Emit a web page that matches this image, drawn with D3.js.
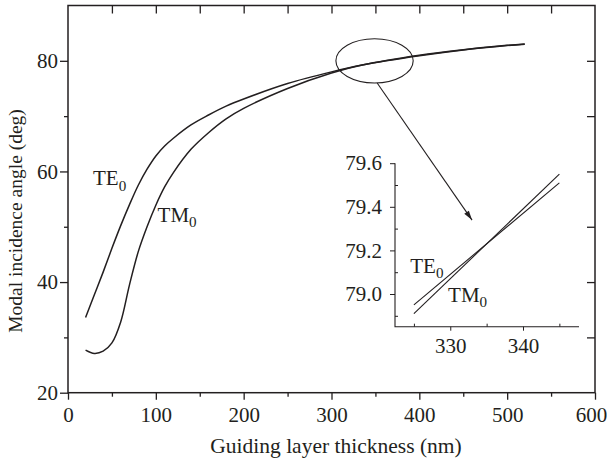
<!DOCTYPE html>
<html>
<head>
<meta charset="utf-8">
<script src="https://cdn.jsdelivr.net/npm/d3@7/dist/d3.min.js"></script>
<style>
body { margin: 0; background: #fff; }
svg text { font-family: "Liberation Serif", "Times New Roman", serif; fill: #231f20; }
.axis path, .axis line { stroke: #231f20; }
</style>
</head>
<body>
<svg id="chart"></svg>
<script>
// guiding layer thickness (nm) and modal angles (deg)
const thickness = [20, 30, 40, 50, 60, 70, 80, 90, 100, 110, 120, 140, 160, 180, 200, 250, 300, 335, 400, 450, 500, 520];
const angleTE = [33.6, 37.7, 41.8, 46.1, 50.2, 54.0, 57.5, 60.4, 62.8, 64.6, 66.0, 68.4, 70.2, 71.8, 73.1, 75.9, 78.0, 79.23, 80.9, 81.95, 82.75, 83.0];
const angleTM = [27.7, 27.1, 27.5, 29.0, 32.8, 39.5, 45.5, 50.0, 53.9, 57.2, 59.8, 64.0, 67.0, 69.5, 71.4, 75.0, 77.8, 79.23, 81.0, 82.0, 82.8, 83.05];

// zoomed inset
const insetThickness = [325, 345];
const insetTE = [78.95, 79.51];
const insetTM = [78.91, 79.55];

const xTicks = [0, 100, 200, 300, 400, 500, 600];
const yTicks = [20, 40, 60, 80];
const insetXTicks = [330, 340];
const insetYTicks = [79.0, 79.2, 79.4, 79.6];

const W = 607, H = 458;
const margins = {"left": 68, "right": 12, "top": 5.5, "bottom": 65.3};
const ink = "#231f20";
const serif = "'Liberation Serif', 'Times New Roman', serif";

var svg = d3.select("#chart").attr("width", W).attr("height", H);

const x = d3.scaleLinear().domain([0, 600]).range([margins.left, W - margins.right]);
const y = d3.scaleLinear().domain([20, 90]).range([H - margins.bottom, margins.top]);

function series(xs, ys) { return xs.map((d, i) => [d, ys[i]]); }

// frame
svg.append("rect")
   .attr("x", x(0)).attr("y", y(90))
   .attr("width", x(600) - x(0)).attr("height", y(20) - y(90))
   .attr("fill", "none").attr("stroke", ink).attr("stroke-width", 1.5);

function addAxis(axis, tx, ty) {
  var g = svg.append("g").attr("class", "axis")
             .attr("transform", "translate(" + tx + "," + ty + ")")
             .call(axis);
  g.select(".domain").remove();
  g.selectAll("line").attr("stroke-width", 1.3);
  g.selectAll("text").attr("font-size", 21).attr("fill", ink).style("font-family", serif);
  return g;
}

// bottom / left with labels
var xg = addAxis(d3.axisBottom(x).tickValues(xTicks).tickSize(7).tickPadding(7).tickFormat(d3.format("d")), 0, y(20));
xg.selectAll("text").filter(d => d === 600).attr("dx", -4);
addAxis(d3.axisBottom(x).tickValues(d3.range(50, 600, 100)).tickSize(4).tickFormat(""), 0, y(20));
addAxis(d3.axisLeft(y).tickValues(yTicks).tickSize(8).tickPadding(2).tickFormat(d3.format("d")), x(0), 0);
addAxis(d3.axisLeft(y).tickValues([30, 50, 70]).tickSize(4).tickFormat(""), x(0), 0);
// mirrored ticks on top / right, pointing inward
addAxis(d3.axisTop(x).tickValues(d3.range(50, 600, 50)).tickSize(-8).tickFormat(""), 0, y(90));
addAxis(d3.axisRight(y).tickValues(d3.range(30, 90, 10)).tickSize(-8).tickFormat(""), x(600), 0);

var line = d3.line().x(d => x(d[0])).y(d => y(d[1])).curve(d3.curveCatmullRom.alpha(0.5));

svg.append("path").datum(series(thickness, angleTE))
   .attr("d", line).attr("fill", "none").attr("stroke", ink).attr("stroke-width", 1.5);
svg.append("path").datum(series(thickness, angleTM))
   .attr("d", line).attr("fill", "none").attr("stroke", ink).attr("stroke-width", 1.5);

function modeLabel(parent, px, py, name, size) {
  var t = parent.append("text").attr("x", px).attr("y", py).attr("font-size", size);
  t.append("tspan").text(name);
  t.append("tspan").text("0").attr("font-size", size * 0.72).attr("dy", size * 0.25);
}
modeLabel(svg, x(28.5), y(57.5), "TE", 21);
modeLabel(svg, x(102), y(50.9), "TM", 21);

// highlight ellipse and arrow
svg.append("ellipse")
   .attr("cx", x(349)).attr("cy", y(80))
   .attr("rx", x(349 + 44) - x(349)).attr("ry", y(80 - 4) - y(80))
   .attr("fill", "none").attr("stroke", ink).attr("stroke-width", 1.1);

svg.append("defs").append("marker")
   .attr("id", "head").attr("viewBox", "0 0 12 10")
   .attr("refX", 12).attr("refY", 5)
   .attr("markerWidth", 11).attr("markerHeight", 8).attr("markerUnits", "userSpaceOnUse")
   .attr("orient", "auto")
   .append("path").attr("d", "M0,1.5 L12,5 L0,8.5 Z").attr("fill", ink);

svg.append("line")
   .attr("x1", x(352)).attr("y1", y(76))
   .attr("x2", x(460)).attr("y2", y(51.2))
   .attr("stroke", ink).attr("stroke-width", 1.1)
   .attr("marker-end", "url(#head)");

// inset
const ix = d3.scaleLinear().domain([322.4, 347.7]).range([395, 579]);
const iy = d3.scaleLinear().domain([78.85, 79.6]).range([326.7, 163.2]);
var inset = svg.append("g");

inset.append("path")
     .attr("d", "M" + ix(322.4) + "," + iy(79.6) + "V" + iy(78.85) + "H" + ix(347.7))
     .attr("fill", "none").attr("stroke", ink).attr("stroke-width", 1.1);

function addInsetAxis(axis, tx, ty) {
  var g = inset.append("g").attr("class", "axis")
               .attr("transform", "translate(" + tx + "," + ty + ")")
               .call(axis);
  g.select(".domain").remove();
  g.selectAll("line").attr("stroke-width", 1);
  g.selectAll("text").attr("font-size", 21).attr("fill", ink).style("font-family", serif);
}
addInsetAxis(d3.axisBottom(ix).tickValues(insetXTicks).tickSize(4).tickPadding(7).tickFormat(d3.format("d")), 0, iy(78.85));
addInsetAxis(d3.axisBottom(ix).tickValues([325, 335, 345]).tickSize(-3).tickFormat(""), 0, iy(78.85));
addInsetAxis(d3.axisLeft(iy).tickValues(insetYTicks).tickSize(5).tickPadding(8).tickFormat(d3.format(".1f")), ix(322.4), 0);
addInsetAxis(d3.axisLeft(iy).tickValues([78.9, 79.1, 79.3, 79.5]).tickSize(-3).tickFormat(""), ix(322.4), 0);

var iline = d3.line().x(d => ix(d[0])).y(d => iy(d[1]));
inset.append("path").datum(series(insetThickness, insetTE))
     .attr("d", iline).attr("fill", "none").attr("stroke", ink).attr("stroke-width", 1.1);
inset.append("path").datum(series(insetThickness, insetTM))
     .attr("d", iline).attr("fill", "none").attr("stroke", ink).attr("stroke-width", 1.1);

modeLabel(inset, ix(324.5), iy(79.097), "TE", 21);
modeLabel(inset, ix(329.7), iy(78.965), "TM", 21);

// axis titles
svg.append("text")
   .attr("x", 336).attr("y", 453)
   .attr("text-anchor", "middle").attr("font-size", 21.5)
   .text("Guiding layer thickness (nm)");

svg.append("text")
   .attr("transform", "translate(22,221) rotate(-90)")
   .attr("text-anchor", "middle").attr("font-size", 19.5)
   .text("Modal incidence angle (deg)");
</script>
</body>
</html>
